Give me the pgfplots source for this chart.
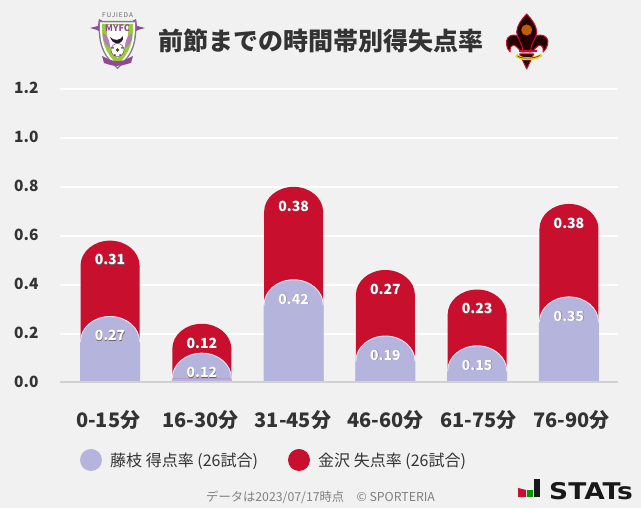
\documentclass[border=0pt]{standalone}
\usepackage{pgfplots}
\usepackage{pgfplotstable}
\usepackage{fontspec}
\pgfplotsset{compat=1.18}
\setmainfont{Noto Sans CJK JP}
\newfontfamily\logofont{DejaVu Sans}
\definecolor{bg}{HTML}{F1F1F1}
\definecolor{home}{HTML}{B4B4DC}
\definecolor{homeline}{HTML}{E6E6F4}
\definecolor{away}{HTML}{C80F2E}
\definecolor{ink}{HTML}{333333}
\definecolor{mypurple}{HTML}{8E4A96}
\definecolor{mygreen}{HTML}{9CC83C}
\definecolor{goldc}{HTML}{F0D020}
\newcommand{\sh}[1]{\makebox[0pt][c]{\raisebox{-0.7pt}{\hspace{0.7pt}\textcolor{black!60}{#1}}}\makebox[0pt][c]{\textcolor{white}{#1}}}
\newcommand{\cappath}{%
 \pgfpathmoveto{\pgfpoint{-29.5pt}{-25.5pt}}%
 \pgfpathlineto{\pgfpoint{-29.5pt}{-25pt}}%
 \pgfpathcurveto{\pgfpoint{-29.5pt}{-11.2pt}}{\pgfpoint{-16.3pt}{0pt}}{\pgfpoint{0pt}{0pt}}%
 \pgfpathcurveto{\pgfpoint{16.3pt}{0pt}}{\pgfpoint{29.5pt}{-11.2pt}}{\pgfpoint{29.5pt}{-25pt}}%
 \pgfpathlineto{\pgfpoint{29.5pt}{-25.5pt}}}
\pgfdeclareplotmark{capf}{\cappath\pgfpathclose\pgfusepathqfill}
\pgfdeclareplotmark{caps}{\cappath\pgfpathclose\pgfusepathqfill\cappath\pgfusepathqstroke}
\pgfplotstableread{
x home away
0 0.27 0.31
1 0.12 0.12
2 0.42 0.38
3 0.19 0.27
4 0.15 0.23
5 0.35 0.38
}\rates
\begin{document}
\begin{tikzpicture}[x=1pt,y=1pt]
\fill[bg] (0,0) rectangle (641,508);
\begin{axis}[
  at={(60pt,125.5pt)},anchor=south west,
  scale only axis,width=558pt,height=293.5pt,
  xmin=-0.545,xmax=5.534,ymin=0,ymax=1.2,
  clip=false,
  axis line style={draw=none},
  ytick={0,0.2,...,1.2},
  yticklabel style={/pgf/number format/fixed,/pgf/number format/fixed zerofill,/pgf/number format/precision=1,/pgf/number format/assume math mode=true,font=\fontsize{15.5}{15.5}\selectfont\bfseries,text=ink,anchor=east,xshift=-18pt,yshift=1pt},
  ymajorgrids,
  grid style={white,line width=2pt},
  major tick length=0pt,
  xtick={-0.02,0.986,1.993,3,4.014,5.027},
  xticklabels={0-15分,16-30分,31-45分,46-60分,61-75分,76-90分},
  xticklabel style={font=\fontsize{20}{20}\selectfont\bfseries,text=ink,yshift=-25pt},
  every node near coord/.style={anchor=center,yshift=-19.5pt,font=\fontsize{14}{14}\selectfont\bfseries,inner sep=0pt},
]
\addplot[ybar,bar width=59pt,bar shift=0pt,fill=away,draw=none,forget plot] table[x=x,y expr=\thisrow{home}+\thisrow{away}-0.103] {\rates};
\addplot[only marks,mark=capf,mark options={fill=away,draw=none},point meta=explicit symbolic,nodes near coords={\sh{\pgfplotspointmeta}}] table[x=x,y expr=\thisrow{home}+\thisrow{away},meta=away] {\rates};
\addplot[ybar,bar width=60pt,bar shift=0pt,fill=home,draw=none,forget plot] table[x=x,y expr=\thisrow{home}-0.103] {\rates};
\addplot[only marks,mark=caps,mark options={fill=home,draw=homeline,line width=0.9pt},point meta=explicit symbolic,nodes near coords={\sh{\pgfplotspointmeta}}] table[x=x,y=home,meta=home] {\rates};
\end{axis}
\draw[black!18,line width=2pt] (60,125.5) -- (618,125.5);
\node[anchor=west,font=\fontsize{25}{25}\selectfont\bfseries,text=ink,inner sep=0pt] at (158,467) {前節までの時間帯別得失点率};
% legend
\fill[home] (91,48) circle (11);
\node[anchor=west,font=\fontsize{16}{16}\selectfont,text=ink,inner sep=0pt] at (110,47) {藤枝 得点率 (26試合)};
\fill[away] (299,48) circle (11);
\node[anchor=west,font=\fontsize{16}{16}\selectfont,text=ink,inner sep=0pt] at (318,47) {金沢 失点率 (26試合)};
% footer
\node[anchor=west,font=\fontsize{12.3}{12.3}\selectfont,text=black!50,inner sep=0pt] at (206,11) {データは2023/07/17時点　© SPORTERIA};
% stats logo
\fill[away] (518,11) -- (518,20) -- (526,18) -- (526,11) -- cycle;
\fill[green!60!black] (527,11) rectangle (532.5,18);
\fill[black!90] (534,11) rectangle (540,29);
\node[anchor=south west,xscale=1.15,transform shape,font=\fontsize{23}{23}\selectfont\logofont\bfseries,inner sep=0pt,text=black!90] at (549,8) {STATs};
% logos, in image pixel coordinates
\begin{scope}[shift={(0,508)},yscale=-1]
 % Fujieda
 \node[font=\fontsize{6.5}{6.5}\selectfont\addfontfeature{LetterSpace=14},text=black!60,inner sep=0pt] at (117.5,15) {FUJIEDA};
 \fill[mypurple] (90,28) -- (98,26) -- (99,19) -- (108,24) -- (104,34) -- (97,30) -- cycle;
 \fill[mypurple] (145,28) -- (137,26) -- (136,19) -- (127,24) -- (131,34) -- (138,30) -- cycle;
 \fill[black!50] (98.5,21) -- (136.5,21) .. controls (136.5,40) and (136,53) .. (117.5,69) .. controls (99,53) and (98.5,40) .. (98.5,21) -- cycle;
 \fill[white] (100,22.5) -- (135,22.5) .. controls (135,40) and (134.5,52) .. (117.5,67) .. controls (100.5,52) and (100,40) .. (100,22.5) -- cycle;
 \fill[mygreen] (102,24) -- (133,24) .. controls (133,40) and (132,50) .. (117.5,65) .. controls (103,50) and (102,40) .. (102,24) -- cycle;
 \fill[white] (107,25) -- (128,25) -- (128,33) .. controls (127,45) and (123,50) .. (117.5,58) .. controls (112,50) and (108,45) .. (107,33) -- cycle;
 \node[font=\fontsize{9}{9}\selectfont\bfseries,text=mypurple,inner sep=0pt] at (117.5,28.5) {MYFC};
 \fill[mypurple!70] (103,33) .. controls (102,40) and (105,45) .. (110,48) .. controls (110,41) and (108,36) .. (103,33) -- cycle;
 \fill[mypurple!70] (132,33) .. controls (133,40) and (130,45) .. (125,48) .. controls (125,41) and (127,36) .. (132,33) -- cycle;
 \fill[black!70!mypurple] (110,37) .. controls (114,41) and (120,41) .. (123,36) .. controls (124,41) and (120,44) .. (116,43.5) .. controls (113,43) and (111,40) .. (110,37) -- cycle;
 \fill[white,draw=mypurple!80!black,line width=0.5pt] (117.5,50) circle (6.5);
 \fill[black!75] (117.5,50) circle (1.9);
 \fill[black!75] (113,48) circle (1) (122,48) circle (1) (114.8,55) circle (1) (120.2,55) circle (1);
 \fill[mypurple] (102,56) -- (108,59) .. controls (115,62) and (121,62) .. (127,59) -- (133,56) -- (131,63) -- (127,64) .. controls (120,66.5) and (114,66.5) .. (107,64) -- (104,63) -- cycle;
 % Kanazawa
 \begin{scope}[xshift=0.7pt,fill=black!85!red,draw=away,line width=1pt,line join=round]
  \filldraw (526,54) -- (519,54) -- (526,69) -- (533,54) -- cycle;
  \filldraw (520,52) .. controls (518,48) and (515,46) .. (513,45) .. controls (511,45) and (509,47) .. (509.5,52) .. controls (505,48) and (505,41) .. (507,38) .. controls (510,34) and (516,34) .. (519,38) .. controls (521,41) and (522,46) .. (523,52) -- cycle;
  \filldraw (532,52) .. controls (534,48) and (537,46) .. (539,45) .. controls (541,45) and (543,47) .. (542.5,52) .. controls (547,48) and (548.5,41) .. (546,38) .. controls (543,34) and (536,34) .. (533,38) .. controls (531,41) and (530,46) .. (529,52) -- cycle;
  \filldraw (526,14) .. controls (531,19) and (536,26) .. (536,32) .. controls (536,39) and (530,42) .. (530,52) -- (522,52) .. controls (522,42) and (516,39) .. (516,32) .. controls (516,26) and (521,19) .. (526,14) -- cycle;
  \fill[away] (518,50) rectangle (536,52.5);
  \fill[orange!75!black] (526,30) circle (5.5);
  \draw[goldc,line width=3pt] (515.5,55) .. controls (519,60) and (534,60) .. (541,55);
  \draw[black!80,line width=0.6pt] (517,56) .. controls (520,59) and (533,59) .. (539,55.5);
 \end{scope}
\end{scope}
\end{tikzpicture}
\end{document}
